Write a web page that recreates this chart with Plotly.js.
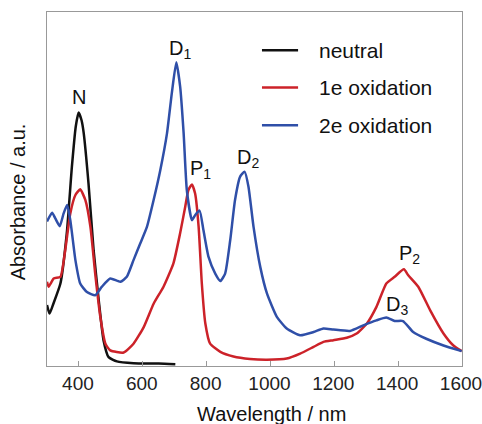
<!DOCTYPE html>
<html><head><meta charset="utf-8">
<script src="https://cdn.plot.ly/plotly-3.0.1.min.js"></script>
<style>html,body{margin:0;padding:0;background:#fff}#chart{width:482px;height:424px}</style>
</head><body><div id="chart"></div>
<script>
const neutralX = [300,308,320,342,362,378,390,399,408,415,430,446,462,477,493,519,571,650,702];
const neutralY = [17.2,14.8,17.6,23.3,37.5,56.3,67.6,71.6,69.5,65.8,51.6,32.7,18.6,7.3,2.5,1.3,0.8,0.7,0.5];

const ox1X = [300,305,321,342,357,373,389,404,420,436,451,467,483,498,540,571,603,634,665,696,717,733,743,754,764,775,785,796,811,843,884,936,989,1051,1093,1135,1166,1197,1239,1270,1302,1332,1363,1389,1418,1431,1463,1500,1542,1573,1599];
const ox1Y = [23.8,22.4,24.7,25.2,32.7,43.1,48.3,49.9,46.9,39.3,26.1,13.9,6.3,4.4,3.8,6.3,11,17.6,22.4,29,37.5,45,49.7,51.3,48.7,39.3,23.3,12,6.3,4,2.7,2,1.8,2.1,3.5,5.4,6.8,7.3,8,9.2,12,16.7,23.3,25.2,27.3,25.7,22.4,15.8,9.2,5.8,4.2];

const ox2X = [300,316,326,340,352,363,373,389,404,425,451,472,498,530,550,571,592,613,634,655,676,691,705,717,728,738,754,764,778,790,806,827,843,858,874,889,905,919,931,947,968,989,1020,1051,1093,1135,1166,1197,1249,1291,1332,1363,1389,1415,1447,1488,1542,1599];
const ox2Y = [40.8,43.3,41.7,39.5,43.1,45.5,41.2,29.9,23.3,20.9,20,22.4,24.7,23.8,25.2,29.9,34.6,39.3,46.9,55.4,65.8,77.1,85.8,79,65.8,49.7,41.2,42.6,43.9,38.4,30.8,26.1,24,26.1,35.6,46.9,53.5,54.9,50.7,39.3,28,20.5,13.9,10.6,8.7,9.6,10.6,10.3,9.9,11.5,12.9,13.7,12.7,12.7,9.6,7.7,5.8,4.2];

const seriesNames = ['neutral','1e oxidation','2e oxidation'];
const seriesColors = ['#111111','#cc2229','#2f4fa8'];

const peakLabels = ['N','D<sub>1</sub>','P<sub>1</sub>','D<sub>2</sub>','P<sub>2</sub>','D<sub>3</sub>'];
const peakX = [401,718,780,930,1437,1396];
const peakY = [76,89.5,55.5,58.5,31.5,17];

const xTicks = [400,600,800,1000,1200,1400,1600];

const font = 'Liberation Sans, Arial, sans-serif';
const traces = [
  {x: neutralX, y: neutralY},
  {x: ox1X, y: ox1Y},
  {x: ox2X, y: ox2Y}
].map((t,i)=>({x:t.x,y:t.y,type:'scatter',mode:'lines',name:seriesNames[i],
  line:{color:seriesColors[i],width:2.5,shape:'spline',smoothing:0.5},showlegend:false}));

const annotations = peakLabels.map((t,i)=>({x:peakX[i],y:peakY[i],xref:'x',yref:'y',text:t,showarrow:false,
  font:{family:font,size:20,color:'#111'}}));
const shapes = [];
seriesNames.forEach((n,i)=>{
  const py = [0.892,0.787,0.68][i];
  shapes.push({type:'line',xref:'paper',yref:'paper',x0:0.518,x1:0.605,y0:py,y1:py,line:{color:seriesColors[i],width:2.5}});
  annotations.push({xref:'paper',yref:'paper',x:0.65,y:py,xanchor:'left',yanchor:'middle',text:n,showarrow:false,
    font:{family:font,size:21,color:'#111'}});
});
annotations.push({xref:'paper',yref:'paper',x:0.542,y:-0.098,xanchor:'center',yanchor:'top',text:'Wavelength / nm',showarrow:false,font:{family:font,size:20,color:'#111'}});
annotations.push({xref:'paper',yref:'paper',x:-0.07,y:0.465,xanchor:'center',yanchor:'middle',textangle:-90,text:'Absorbance / a.u.',showarrow:false,font:{family:font,size:20,color:'#111'}});

const layout = {
  width:482,height:424,
  margin:{l:47,r:20,t:12,b:58},
  paper_bgcolor:'#fff',plot_bgcolor:'#fff',
  showlegend:false,
  xaxis:{range:[300,1600],tickvals:xTicks,ticktext:xTicks.map(String),ticks:'inside',ticklen:5,tickcolor:'#999',
    ticklabeloverflow:'allow',ticklabelshift:-1,
    showline:true,mirror:true,linecolor:'#999',linewidth:1,showgrid:false,zeroline:false,
    tickfont:{family:font,size:19,color:'#222'}},
  yaxis:{range:[0,100],showticklabels:false,ticks:'',showline:true,mirror:true,linecolor:'#999',linewidth:1,
    showgrid:false,zeroline:false},
  annotations:annotations,shapes:shapes
};
Plotly.newPlot('chart',traces,layout,{staticPlot:true});
</script></body></html>
